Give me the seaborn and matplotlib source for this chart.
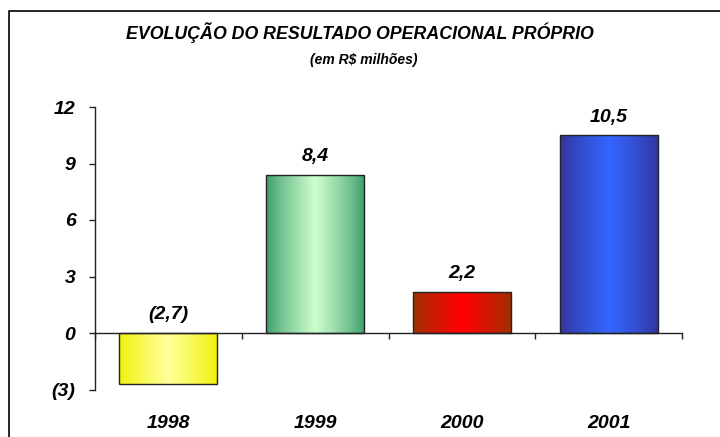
import numpy as np
import pandas as pd
import seaborn as sns
import matplotlib.pyplot as plt
from matplotlib.colors import to_rgb
from matplotlib.lines import Line2D

# Dados (R$ milhões)
anos = ["1998", "1999", "2000", "2001"]
valores = [-2.7, 8.4, 2.2, 10.5]
rotulos = ["(2,7)", "8,4", "2,2", "10,5"]
yticks = [-3, 0, 3, 6, 9, 12]
ytick_labels = ["(3)", "0", "3", "6", "9", "12"]

# cores do degradê: (borda, centro)
cores = [("#f0f000", "#ffff99"),
         ("#3a9a6a", "#ccffcc"),
         ("#993300", "#ff0000"),
         ("#333399", "#3366ff")]

df = pd.DataFrame({"ano": anos, "valor": valores})

sns.set_style("white")
plt.rcParams["font.family"] = ["Liberation Sans", "DejaVu Sans"]
plt.rcParams["font.weight"] = "bold"
plt.rcParams["font.style"] = "italic"
plt.rcParams["text.color"] = "black"
plt.rcParams["xtick.color"] = "#222222"
plt.rcParams["ytick.color"] = "#222222"
plt.rcParams["xtick.labelcolor"] = "black"
plt.rcParams["ytick.labelcolor"] = "black"

fig = plt.figure(figsize=(7.2, 4.37), dpi=100)
ax = fig.add_axes([95 / 720, 1 - 389.5 / 437, (682 - 95) / 720, (389.5 - 107) / 437])

sns.barplot(data=df, x="ano", y="valor", hue="ano", palette=[c[0] for c in cores],
            width=0.668, legend=False, ax=ax, edgecolor="#222222", linewidth=1)

# degradê horizontal em cada barra
t = np.linspace(0, 1, 200)
w = (1 - np.abs(2 * t - 1)) ** 0.8
for patch, (borda, centro) in zip(ax.patches, cores):
    b, c = np.array(to_rgb(borda)), np.array(to_rgb(centro))
    grad = (b[None, :] * (1 - w[:, None]) + c[None, :] * w[:, None])[None, :, :]
    x0, y0 = patch.get_x(), patch.get_y()
    x1, y1 = x0 + patch.get_width(), y0 + patch.get_height()
    im = ax.imshow(grad, extent=[x0, x1, min(y0, y1), max(y0, y1)], aspect="auto",
                   zorder=2, interpolation="bilinear")
    im.set_clip_path(patch)
    patch.set_facecolor("none")
    patch.set_zorder(3)

# rótulos de valor
for i, (v, r) in enumerate(zip(valores, rotulos)):
    ax.annotate(r, (i, max(v, 0)), xytext=(0, 13), textcoords="offset points",
                ha="center", va="center", fontsize=14)

ax.set_xlim(-0.5, 3.5)
ax.set_ylim(-3, 12)
ax.set_yticks(yticks)
ax.set_yticklabels(ytick_labels)
ax.set_xticks(range(len(anos)))
ax.set_xticklabels(anos)
ax.set_xticks(np.arange(-0.5, 4, 1), minor=True)
ax.tick_params(axis="x", which="major", bottom=True, length=0, pad=59, labelsize=14)
ax.tick_params(axis="x", which="minor", bottom=True, length=4, width=1, direction="out")
ax.tick_params(axis="y", left=True, length=4, width=1, direction="out", pad=10, labelsize=14)
ax.set_xlabel("")
ax.set_ylabel("")

for s in ["top", "right"]:
    ax.spines[s].set_visible(False)
ax.spines["bottom"].set_position(("data", 0))
for s in ["left", "bottom"]:
    ax.spines[s].set_color("#222222")
    ax.spines[s].set_linewidth(1)
ax.set_facecolor("white")

# títulos
fig.text(0.5, 1 - 33 / 437, "EVOLUÇÃO DO RESULTADO OPERACIONAL PRÓPRIO",
         ha="center", va="center", fontsize=12.8)
fig.text(0.505, 1 - 60 / 437, "(em R$ milhões)", ha="center", va="center",
         fontsize=10)

# moldura
fig.add_artist(Line2D([8.5 / 720, 8.5 / 720, 1], [0, 1 - 10.5 / 437, 1 - 10.5 / 437],
                      transform=fig.transFigure, color="black", linewidth=1.2))

fig.savefig("out.png", dpi=100)
